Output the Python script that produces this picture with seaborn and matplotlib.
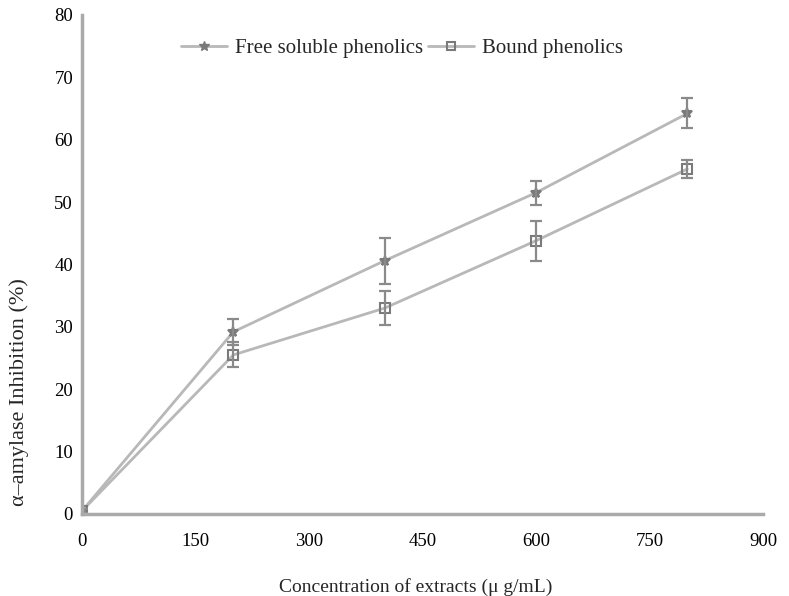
import matplotlib
matplotlib.use("Agg")
import matplotlib.pyplot as plt
from matplotlib.lines import Line2D
import pandas as pd
import seaborn as sns

# Data
conc = [0, 200, 400, 600, 800]
free_mean = [0.5, 29.2, 40.6, 51.5, 64.2]
free_err = [0.3, 2.1, 3.7, 1.9, 2.4]
bound_mean = [0.5, 25.5, 33.0, 43.8, 55.3]
bound_err = [0.3, 2.0, 2.7, 3.2, 1.4]
x_ticks = [0, 150, 300, 450, 600, 750, 900]
y_ticks = [0, 10, 20, 30, 40, 50, 60, 70, 80]

df = pd.DataFrame({
    'conc': conc * 2,
    'value': free_mean + bound_mean,
    'err': free_err + bound_err,
    'group': ['Free soluble phenolics'] * len(conc) + ['Bound phenolics'] * len(conc),
})

sns.set_style("white")
plt.rcParams['font.family'] = ['Liberation Serif', 'DejaVu Serif']

fig = plt.figure(figsize=(7.89, 5.96), dpi=100)
ax = fig.add_axes([0.104, 0.1376, 0.863, 0.8374])

line_col = '#b8b8b8'
mark_col = '#7a7a7a'

sns.lineplot(data=df, x='conc', y='value', hue='group', style='group',
             markers={'Free soluble phenolics': '*', 'Bound phenolics': 's'},
             dashes=False, palette=[line_col, line_col], lw=2,
             markersize=7, ax=ax, legend=False)
# restyle markers
for ln, fc in zip(ax.lines, [mark_col, 'none']):
    ln.set_markeredgecolor(mark_col)
    ln.set_markerfacecolor(fc)
    ln.set_markeredgewidth(1.5)

for name, sub in df.groupby('group', sort=False):
    ax.errorbar(sub['conc'], sub['value'], yerr=sub['err'], fmt='none',
                ecolor='#8a8a8a', elinewidth=1.6, capsize=4, capthick=1.6)

# legend
handles = [
    Line2D([], [], color=line_col, lw=2, marker='*', markersize=7,
           markerfacecolor=mark_col, markeredgecolor=mark_col),
    Line2D([], [], color=line_col, lw=2, marker='s', markersize=6,
           markerfacecolor='none', markeredgecolor=mark_col, markeredgewidth=1.5),
]
ax.legend(handles, ['Free soluble phenolics', 'Bound phenolics'], loc='upper center',
          bbox_to_anchor=(0.47, 0.99), ncol=2, frameon=False, fontsize=15,
          handlelength=2.2, handletextpad=0.4, columnspacing=0.2)

ax.set_xlim(0, 900)
ax.set_ylim(0, 80)
ax.set_xticks(x_ticks)
ax.set_yticks(y_ticks)
ax.tick_params(labelsize=13.5, colors='#999999', labelcolor='black',
               direction='inout', length=5, width=1.5)
ax.tick_params(axis='x', pad=11)
ax.tick_params(axis='y', pad=4)

sns.despine(ax=ax)
for s in ['left', 'bottom']:
    ax.spines[s].set_color('#aaaaaa')
    ax.spines[s].set_linewidth(2.5)

ax.set_xlabel('Concentration of extracts (\u03bc g/mL)', fontsize=14)
ax.set_ylabel('\u03b1\u2013amylase Inhibition (%)', fontsize=16, va='center')
ax.xaxis.set_label_coords(0.49, -0.128)
ax.yaxis.set_label_coords(-0.092, 0.245)

fig.savefig('out.png', dpi=100)
